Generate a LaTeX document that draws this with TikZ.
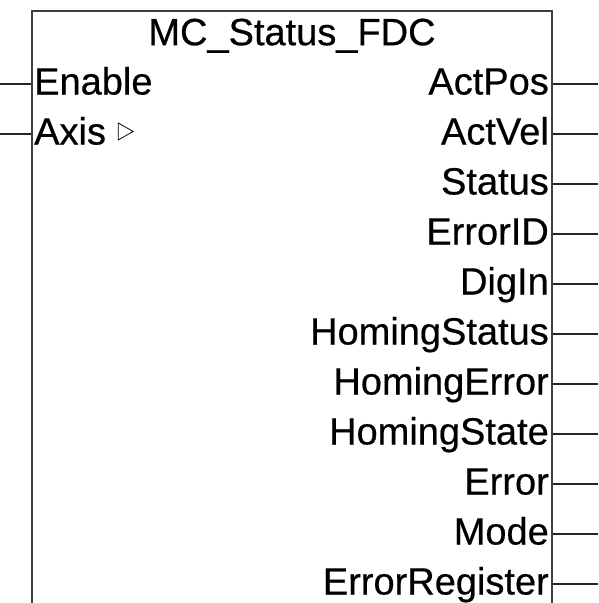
\documentclass[tikz,border=0pt]{standalone}
\usepackage{fontspec}
\setmainfont{Liberation Sans}
\newfontfamily\pinfont{Liberation Sans}[FakeBold=0.5]
\usetikzlibrary{positioning}
\tikzstyle{fblock}=[rectangle,draw=black!75,line width=2pt,
minimum width=520pt,minimum height=640pt,anchor=north west]
\tikzstyle{pinlabel}=[inner sep=0pt,text height=28pt,text depth=7pt,
font=\pinfont\fontsize{38}{40}\selectfont]
\tikzstyle{inpin}=[pinlabel,anchor=west]
\tikzstyle{outpin}=[pinlabel,anchor=east]
\tikzstyle{wire}=[line width=1.3pt,black!85]

\begin{document}
\begin{tikzpicture}[x=1pt,y=-1pt]
            \useasboundingbox (0,0) rectangle (598,603);
            \clip (0,0) rectangle (598,603);

            % BLOCK (open below the page edge)

            \node[fblock] (fb) at (31,10) {};
            \node[pinlabel,below=7pt of fb.north] (title) {MC\_Status\_FDC};
            \coordinate (lrim) at (0,0);
            \coordinate (rrim) at (598,0);
            \coordinate (in1) at (0,84);
            \coordinate (out1) at (598,84);

            % INPUTS

            \node[inpin] (enable) at ([xshift=3pt]in1 -| fb.west) {Enable};
            \node[inpin] (axis) at ([yshift=-50pt]enable.west) {Axis};

            \draw[wire] (enable -| lrim) -- (enable -| fb.west);
            \draw[wire] (axis -| lrim) -- (axis -| fb.west);
            \draw[line width=0.8pt,line join=miter] ([xshift=12pt,yshift=11pt]axis.east)
              -- ++(0pt,-17pt) -- ++(15pt,8.5pt) -- cycle;

            % OUTPUTS

            \node[outpin] (actpos) at ([xshift=-4pt]out1 -| fb.east) {ActPos};
            \node[outpin] (actvel) at ([yshift=-50pt]actpos.east) {ActVel};
            \node[outpin] (status) at ([yshift=-50pt]actvel.east) {Status};
            \node[outpin] (errid) at ([yshift=-50pt]status.east) {ErrorID};
            \node[outpin] (digin) at ([yshift=-50pt]errid.east) {DigIn};
            \node[outpin] (hstatus) at ([yshift=-50pt]digin.east) {HomingStatus};
            \node[outpin] (herror) at ([yshift=-50pt]hstatus.east) {HomingError};
            \node[outpin] (hstate) at ([yshift=-50pt]herror.east) {HomingState};
            \node[outpin] (error) at ([yshift=-50pt]hstate.east) {Error};
            \node[outpin] (mode) at ([yshift=-50pt]error.east) {Mode};
            \node[outpin] (errreg) at ([yshift=-50pt]mode.east) {ErrorRegister};

            \draw[wire] (actpos -| fb.east) -- (actpos -| rrim);
            \draw[wire] (actvel -| fb.east) -- (actvel -| rrim);
            \draw[wire] (status -| fb.east) -- (status -| rrim);
            \draw[wire] (errid -| fb.east) -- (errid -| rrim);
            \draw[wire] (digin -| fb.east) -- (digin -| rrim);
            \draw[wire] (hstatus -| fb.east) -- (hstatus -| rrim);
            \draw[wire] (herror -| fb.east) -- (herror -| rrim);
            \draw[wire] (hstate -| fb.east) -- (hstate -| rrim);
            \draw[wire] (error -| fb.east) -- (error -| rrim);
            \draw[wire] (mode -| fb.east) -- (mode -| rrim);
            \draw[wire] (errreg -| fb.east) -- (errreg -| rrim);

\end{tikzpicture}
\end{document}
